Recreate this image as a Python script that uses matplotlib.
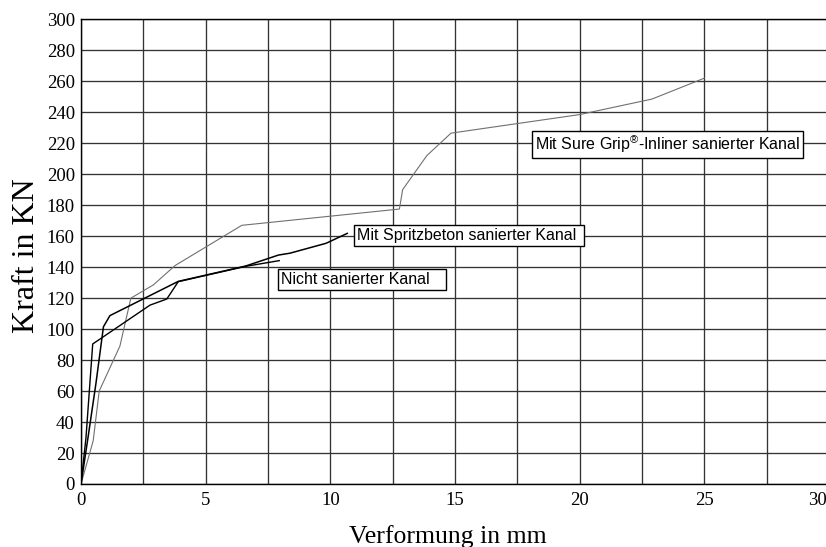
import matplotlib
matplotlib.use("Agg")
import matplotlib.pyplot as plt
from matplotlib.ticker import MultipleLocator
import matplotlib.transforms as mtransforms

# ---- data ----
sure_x = [0, 0.49, 0.73, 1.56, 2.0, 2.9, 3.77, 6.45, 12.77, 12.9, 13.87, 14.84, 20.0, 22.9, 25.0]
sure_y = [0, 28, 60, 89, 120, 128.5, 141, 167, 177.5, 190, 212, 226.5, 238.5, 248.5, 262]

nicht_x = [0, 0.2, 0.47, 2.77, 3.44, 3.9, 6.6, 7.95]
nicht_y = [0, 30, 90.4, 115.5, 119.4, 130.6, 140.5, 144.2]

spritz_x = [0, 0.3, 0.6, 0.9, 1.16, 3.9, 6.6, 7.92, 8.38, 9.83, 10.68]
spritz_y = [0, 32, 65, 101.5, 108.7, 130.8, 140.7, 147.8, 149, 155.4, 161.8]

labels = ["Nicht sanierter Kanal",
          "Mit Spritzbeton sanierter Kanal",
          "Mit Sure Grip$^{\\mathrm{®}}$-Inliner sanierter Kanal"]
label_pos = [(8.02, 132.0), (11.07, 160.4), (18.2, 219.2)]
label_trail = [3, 1, 0]   # extra blank space inside the boxes on the right

x_ticks = [0, 5, 10, 15, 20, 25, 30]
y_ticks = list(range(0, 301, 20))

plt.rcParams['mathtext.fontset'] = 'custom'
plt.rcParams['mathtext.rm'] = 'Liberation Sans'
plt.rcParams['mathtext.it'] = 'Liberation Sans'

W, H = 826, 547
fig = plt.figure(figsize=(W / 100, H / 100), dpi=100)
ax = fig.add_axes([81 / W, 63 / H, 748 / W, 464.7 / H])

ax.set_xlim(0, 30)
ax.set_ylim(0, 300)
ax.xaxis.set_major_locator(MultipleLocator(5))
ax.xaxis.set_minor_locator(MultipleLocator(2.5))
ax.set_yticks(y_ticks)
ax.set_xticks(x_ticks)

ax.grid(True, which='both', color='#333333', lw=0.95)
ax.set_axisbelow(True)
for s in ax.spines.values():
    s.set_color('black')
    s.set_linewidth(1.0)

ax.tick_params(which='both', length=0)
ax.tick_params(axis='y', pad=4.5)
ax.tick_params(axis='x', pad=6)
for lab in ax.get_xticklabels() + ax.get_yticklabels():
    lab.set_fontfamily('Liberation Serif')
    lab.set_fontsize(13.5)

# shift last x tick label to fit inside the picture
xt = ax.get_xticklabels()
off = mtransforms.ScaledTranslation(-12 / 100, 0, fig.dpi_scale_trans)
xt[-1].set_transform(xt[-1].get_transform() + off)

ax.plot(sure_x, sure_y, color='#707070', lw=0.8)
ax.plot(nicht_x, nicht_y, color='black', lw=1.0)
ax.plot(spritz_x, spritz_y, color='black', lw=1.1)

for txt, (x, y), n in zip(labels, label_pos, label_trail):
    ax.text(x, y, txt + '\u00a0' * n, ha='left', va='center', fontsize=11.5,
            family='Liberation Sans', zorder=5,
            bbox=dict(boxstyle='square,pad=0.18', fc='white', ec='black', lw=1.0))

fig.text(26 / W, 1 - 256 / H, 'Kraft in KN', rotation=90, ha='center', va='center',
         family='Liberation Serif', fontsize=23)
fig.text(448 / W, 4 / H, 'Verformung in mm', ha='center', va='baseline',
         family='Liberation Serif', fontsize=18.5)

fig.savefig('out.png', dpi=100)
